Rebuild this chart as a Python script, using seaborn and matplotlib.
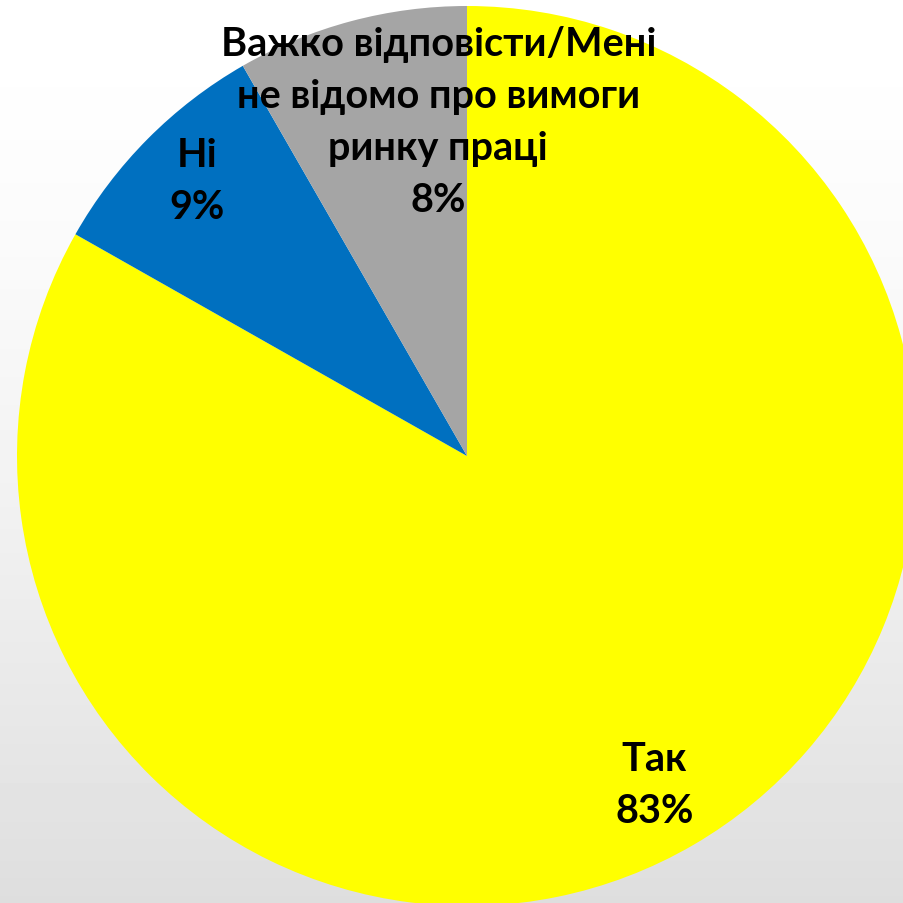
import numpy as np
import matplotlib
matplotlib.use("Agg")
import matplotlib.pyplot as plt
import seaborn as sns

# Data
categories = ["Так", "Ні", "Важко відповісти/Мені\nне відомо про вимоги\nринку праці"]
shares = [83.2, 8.5, 8.3]
pct_labels = ["83%", "9%", "8%"]
colors = ["#FFFF00", "#0070C0", "#A5A5A5"]

sns.set_theme(style="white")
plt.rcParams['font.family'] = ['Lato', 'DejaVu Sans']

fig = plt.figure(figsize=(9.04, 9.04), dpi=100)
ax = fig.add_axes([0, 0, 1, 1])

# pie center at pixel (467, 457), radius 450 px
scale = 450.0
x0, x1 = -467 / scale, (904 - 467) / scale
y0, y1 = -(904 - 457) / scale, 457 / scale

# background gradient, white at top to light grey at bottom
t = np.linspace(0, 1, 256)[:, None]
grad = 1.0 - 0.13 * t ** 1.5
ax.imshow(np.repeat(grad, 2, axis=1), cmap="gray", vmin=0, vmax=1,
          extent=[x0, x1, y0, y1], origin="upper", aspect="auto", zorder=0)

wedges, _ = ax.pie(shares, colors=colors, startangle=90, counterclock=False,
                   radius=1.0, wedgeprops=dict(linewidth=0))
for w in wedges:
    w.set_zorder(1)

ax.set_xlim(x0, x1)
ax.set_ylim(y0, y1)
ax.set_aspect("auto")
ax.axis("off")

# label positions (data units)
label_pos = [(0.416, -0.731), (-0.600, 0.613), (-0.064, 0.744)]
for cat, pct, (lx, ly) in zip(categories, pct_labels, label_pos):
    ax.text(lx, ly, cat + "\n" + pct, ha="center", va="center",
            fontsize=28.5, fontweight="bold", color="black",
            linespacing=1.5, zorder=3)

fig.savefig("out.png", dpi=100)
